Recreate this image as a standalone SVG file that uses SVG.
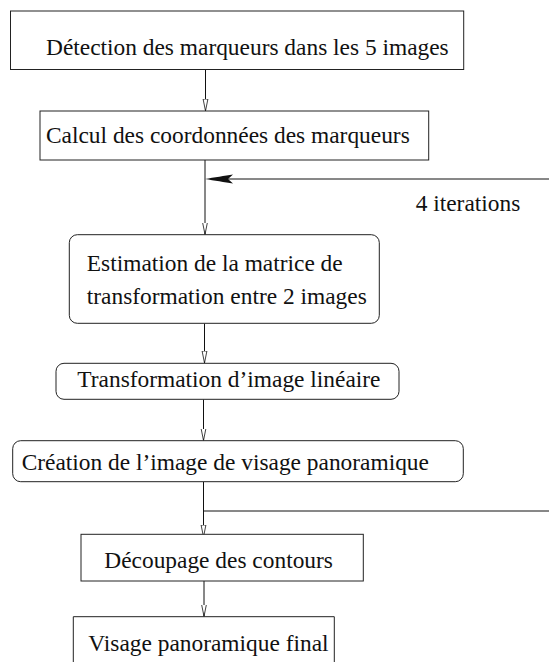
<svg xmlns="http://www.w3.org/2000/svg" width="549" height="662" viewBox="0 0 549 662">
<style>
.box{fill:#fff;stroke:#222;stroke-width:1}
.lbl{font-family:"Liberation Serif","Times New Roman",serif;font-size:23.4px;fill:#111}
.ln{fill:none;stroke:#111;stroke-width:1}
</style>
<defs>
<marker id="open" markerUnits="userSpaceOnUse" markerWidth="14" markerHeight="8" refX="12" refY="4" orient="auto">
<path d="M0,1.6 L12,4 L0,6.4 Z" fill="#fff" stroke="#111" stroke-width="0.8"/>
</marker>
</defs>
<rect width="549" height="662" fill="#fff"/>
<g id="connectors">
<path class="ln" d="M205.5,70 V111" marker-end="url(#open)"/>
<path class="ln" d="M205,160 V234.5" marker-end="url(#open)"/>
<path class="ln" d="M549,179 H228"/>
<path d="M205,179 C214,177.6 225,175.6 233,174.5 L228,179 L233,183.5 C225,182.4 214,180.4 205,179 Z" fill="#111"/>
<path class="ln" d="M204.5,323.5 V363" marker-end="url(#open)"/>
<path class="ln" d="M203.5,399.5 V440.5" marker-end="url(#open)"/>
<path class="ln" d="M203.5,482 V537" marker-end="url(#open)"/>
<path class="ln" d="M203.5,511 H549"/>
<path class="ln" d="M204,581 V616.5" marker-end="url(#open)"/>
<text class="lbl" x="415.7" y="211">4 iterations</text>
</g>
<g id="n1">
<rect class="box" x="10.5" y="11" width="453.2" height="58.5"/>
<text class="lbl" x="46" y="55">Détection des marqueurs dans les 5 images</text>
</g>
<g id="n2">
<rect class="box" x="40" y="111" width="388.7" height="49"/>
<text class="lbl" x="46" y="143.3">Calcul des coordonnées des marqueurs</text>
</g>
<g id="n3">
<rect class="box" x="69.3" y="234.7" width="310" height="88.6" rx="8" ry="8"/>
<text class="lbl" x="86.8" y="270.7">Estimation de la matrice de</text>
<text class="lbl" x="86.8" y="304">transformation entre 2 images</text>
</g>
<g id="n4">
<rect class="box" x="56" y="363.3" width="343" height="36" rx="8" ry="8"/>
<text class="lbl" x="77.3" y="387">Transformation d’image linéaire</text>
</g>
<g id="n5">
<rect class="box" x="12.7" y="440.7" width="450.6" height="41" rx="8" ry="8"/>
<text class="lbl" x="21.7" y="469.5">Création de l’image de visage panoramique</text>
</g>
<g id="n6">
<rect class="box" x="81" y="534.3" width="282.3" height="46.7"/>
<text class="lbl" x="104.3" y="567.5">Découpage des contours</text>
</g>
<g id="n7">
<path class="box" d="M73.3,663 V616.7 H334.3 V663"/>
<text class="lbl" x="88.3" y="650.7">Visage panoramique final</text>
</g>
</svg>
